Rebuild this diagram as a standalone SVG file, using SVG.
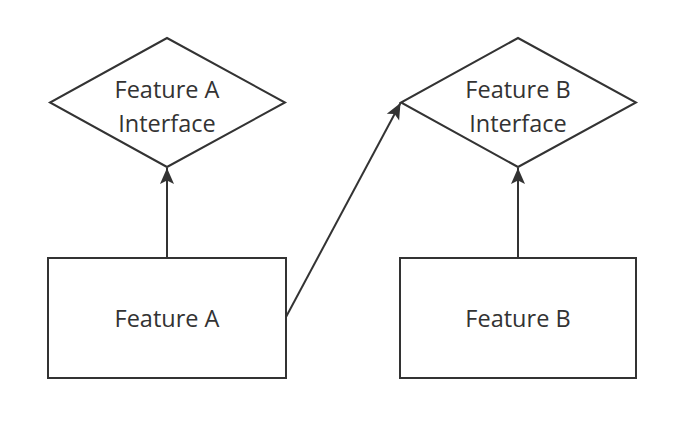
<svg xmlns="http://www.w3.org/2000/svg" width="680" height="433" viewBox="0 0 680 433">
<style>
.shape{fill:#ffffff;stroke:#333333;stroke-width:2}
.lbl{font-family:"Open Sans",sans-serif;font-size:23.5px;fill:#333333;text-anchor:middle}
.edge{stroke:#333333;stroke-width:2;fill:none;marker-end:url(#arr)}
</style>
<defs>
<marker id="arr" viewBox="-17 -8 18 16" refX="0" refY="0" markerWidth="18" markerHeight="16" markerUnits="userSpaceOnUse" orient="auto">
<path d="M0,0 L-16,-7 L-12.5,0 L-16,7 Z" fill="#333333"/>
</marker>
</defs>
<rect width="680" height="433" fill="#ffffff"/>
<g id="featureAInterface">
<polygon class="shape" points="167,38 285,102.5 167,167 50,102.5"/>
<text class="lbl" x="167" y="98">Feature A</text>
<text class="lbl" x="167" y="131.5">Interface</text>
</g>
<g id="featureBInterface">
<polygon class="shape" points="518,38 636,102.5 518,167 401,102.5"/>
<text class="lbl" x="518" y="98">Feature B</text>
<text class="lbl" x="518" y="131.5">Interface</text>
</g>
<g id="featureA">
<rect class="shape" x="48" y="258" width="238" height="120"/>
<text class="lbl" x="167" y="327">Feature A</text>
</g>
<g id="featureB">
<rect class="shape" x="400" y="258" width="236" height="120"/>
<text class="lbl" x="518" y="327">Feature B</text>
</g>
<g id="connectors">
<line class="edge" x1="167" y1="257" x2="167" y2="168"/>
<line class="edge" x1="518" y1="257" x2="518" y2="168"/>
<line class="edge" x1="286" y1="317" x2="400.5" y2="103"/>
</g>
</svg>
